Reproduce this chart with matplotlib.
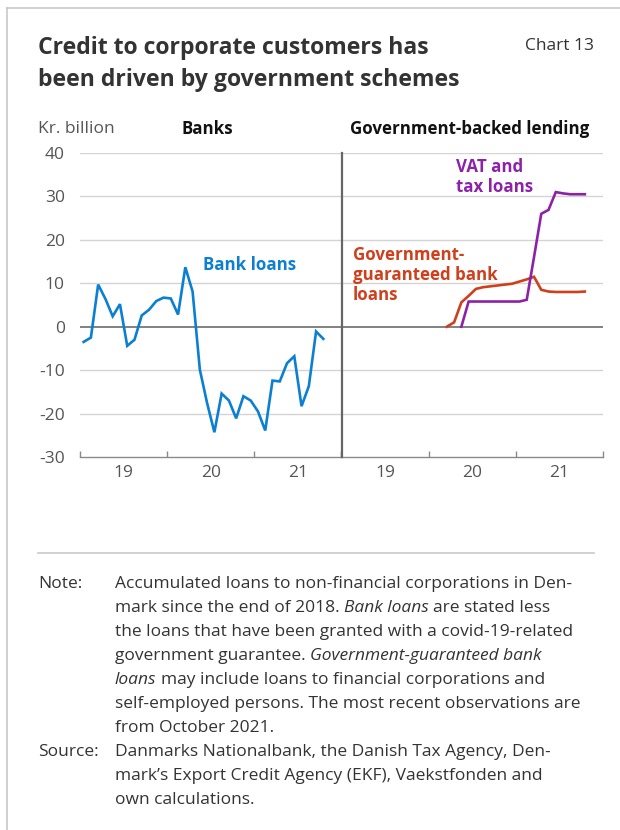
import matplotlib
matplotlib.use("Agg")
import matplotlib.pyplot as plt
from matplotlib.lines import Line2D
import pandas as pd
import numpy as np

# ---- data (kr. billion, accumulated since end-2018) ----
months = pd.date_range("2019-01-01", "2021-10-01", freq="MS")
bank_loans = [-3.5, -2.5, 9.7, 6.4, 2.4, 5.2, -4.4, -3.0, 2.6, 3.9, 5.9, 6.7,
              6.5, 2.8, 13.7, 8.1, -9.9, -17.6, -24.3, -15.4, -17.0, -21.1, -16.0, -17.0,
              -19.5, -23.9, -12.4, -12.6, -8.4, -6.8, -18.3, -13.7, -1.1, -2.8]
guaranteed_start = "2020-03-01"
guaranteed_loans = [0.0, 1.0, 5.6, 7.1, 8.7, 9.1, 9.3, 9.5, 9.7, 9.9,
                    10.4, 10.9, 11.5, 8.5, 8.1, 8.0, 8.0, 8.0, 8.0, 8.1]
vat_start = "2020-05-01"
vat_tax_loans = [0.0, 5.8, 5.8, 5.8, 5.8, 5.8, 5.8, 5.8, 5.8, 6.2,
                 16.0, 26.0, 26.9, 31.0, 30.7, 30.5, 30.5, 30.5]
year_labels = ["19", "20", "21"]
y_ticks = [-30, -20, -10, 0, 10, 20, 30, 40]

W, H = 620, 830
FONT = "Open Sans"
plt.rcParams["font.family"] = [FONT, "DejaVu Sans"]

BLUE = "#0b7fd1"
RED = "#cf3f1c"
PURPLE = "#8d22a8"
TXT = "#333333"
TICK = "#555555"
GRID = "#d4d4d4"

SMALL = 12.5      # regular small text
BOLD_SMALL = 12.2  # bold small text


def pos(dates):
    d = pd.DatetimeIndex(dates)
    return d.year + (d.month - 0.5) / 12.0


def series_x(start, n):
    return pos(pd.date_range(start, periods=n, freq="MS"))


fig = plt.figure(figsize=(W / 100, H / 100), dpi=100)


def fx(x):
    return x / W


def fy(y):
    return 1 - y / H


def axes_px(x0, y0, x1, y1):
    return fig.add_axes([fx(x0), fy(y1), (x1 - x0) / W, (y1 - y0) / H])


ax1 = axes_px(80, 153, 341.5, 457)
ax2 = axes_px(341.5, 153, 603, 457)

for ax in (ax1, ax2):
    ax.set_xlim(2019, 2022)
    ax.set_ylim(-30, 40)
    ax.set_yticks(y_ticks)
    for v in y_ticks[1:]:
        if v == 0:
            continue
        ax.axhline(v, color=GRID, lw=1.0, zorder=1)
    ax.axhline(0, color="#777777", lw=1.3, zorder=2)
    for s in ("top", "right", "left"):
        ax.spines[s].set_visible(False)
    ax.spines["bottom"].set_color("#8a8a8a")
    ax.spines["bottom"].set_linewidth(1.0)
    ax.set_xticks([2019, 2020, 2021, 2022])
    ax.set_xticklabels([])
    ax.set_xticks([2019.5, 2020.5, 2021.5], minor=True)
    ax.set_xticklabels(year_labels, minor=True)
    ax.tick_params(axis="x", which="major", direction="in", length=4,
                   color="#8a8a8a", width=1.0)
    ax.tick_params(axis="x", which="minor", length=0, pad=6,
                   labelsize=SMALL, labelcolor=TICK)
    ax.patch.set_alpha(0)

ax1.tick_params(axis="y", length=0, pad=11, labelsize=SMALL, labelcolor=TICK)
ax1.set_yticklabels([str(v) for v in y_ticks])
ax2.set_yticks([])
ax2.spines["left"].set_visible(True)
ax2.spines["left"].set_color("#666666")
ax2.spines["left"].set_linewidth(1.6)
ax2.spines["left"].set_zorder(5)

ax1.plot(pos(months), bank_loans, color=BLUE, lw=1.9, zorder=4,
         solid_joinstyle="miter")
ax2.plot(series_x(guaranteed_start, len(guaranteed_loans)), guaranteed_loans,
         color=RED, lw=1.9, zorder=4, solid_joinstyle="miter")
ax2.plot(series_x(vat_start, len(vat_tax_loans)), vat_tax_loans,
         color=PURPLE, lw=1.9, zorder=4, solid_joinstyle="miter")

# series labels
fig.text(fx(203), fy(265), "Bank loans", color=BLUE, fontsize=BOLD_SMALL,
         fontweight="bold", va="center", ha="left")
fig.text(fx(456), fy(177), "VAT and\ntax loans", color=PURPLE, fontsize=BOLD_SMALL,
         fontweight="bold", va="center", ha="left", linespacing=1.17)
fig.text(fx(353), fy(275), "Government-\nguaranteed bank\nloans", color=RED,
         fontsize=BOLD_SMALL, fontweight="bold", va="center", ha="left",
         linespacing=1.17)

# title block
fig.text(fx(38), fy(64), "Credit to corporate customers has\nbeen driven by government schemes",
         color=TXT, fontsize=16.6, fontweight="bold", va="center", ha="left",
         linespacing=1.43)
fig.text(fx(594), fy(46), "Chart 13", color=TXT, fontsize=SMALL, va="center", ha="right")
fig.text(fx(38), fy(129), "Kr. billion", color=TICK, fontsize=SMALL, va="center", ha="left")
fig.text(fx(182), fy(129), "Banks", color="#111111", fontsize=BOLD_SMALL,
         fontweight="bold", va="center", ha="left")
fig.text(fx(589), fy(129), "Government-backed lending", color="#111111",
         fontsize=BOLD_SMALL, fontweight="bold", va="center", ha="right")

# frame lines and separator
fig.add_artist(Line2D([fx(7), fx(620)], [fy(8), fy(8)], color="#c8c8c8", lw=1.2))
fig.add_artist(Line2D([fx(7), fx(7)], [fy(8), fy(830)], color="#c8c8c8", lw=1.2))
fig.add_artist(Line2D([fx(38), fx(594)], [fy(553), fy(553)], color="#c8c8c8", lw=1.2))

# notes with mixed upright / italic runs
renderer = fig.canvas.get_renderer()
NOTE_SIZE = 12.5


def text_width(s, style="normal"):
    t = fig.text(0, 0, s, fontsize=NOTE_SIZE, style=style)
    w = t.get_window_extent(renderer).width
    t.remove()
    return w


SPACE = text_width("a a") - text_width("aa")


def rich_line(x, y, runs):
    cur = x
    for i, (s, style) in enumerate(runs):
        if i > 0:
            cur += SPACE
        t = fig.text(fx(cur), fy(y), s, fontsize=NOTE_SIZE, style=style,
                     color=TXT, va="center", ha="left")
        cur += t.get_window_extent(renderer).width


n, it = "normal", "italic"
note_lines = [
    [("Accumulated loans to non-financial corporations in Den-", n)],
    [("mark since the end of 2018.", n), ("Bank loans", it), ("are stated less", n)],
    [("the loans that have been granted with a covid-19-related", n)],
    [("government guarantee.", n), ("Government-guaranteed bank", it)],
    [("loans", it), ("may include loans to financial corporations and", n)],
    [("self-employed persons. The most recent observations are", n)],
    [("from October 2021.", n)],
]
source_lines = [
    [("Danmarks Nationalbank, the Danish Tax Agency, Den-", n)],
    [("mark\u2019s Export Credit Agency (EKF), Vaekstfonden and", n)],
    [("own calculations.", n)],
]

y0 = 584
step = 24
fig.text(fx(38), fy(y0), "Note:", fontsize=NOTE_SIZE, color=TXT, va="center", ha="left")
for i, runs in enumerate(note_lines):
    rich_line(115, y0 + i * step, runs)
ys = y0 + len(note_lines) * step
fig.text(fx(38), fy(ys), "Source:", fontsize=NOTE_SIZE, color=TXT, va="center", ha="left")
for i, runs in enumerate(source_lines):
    rich_line(115, ys + i * step, runs)

fig.savefig("out.png", dpi=100, facecolor="white")
